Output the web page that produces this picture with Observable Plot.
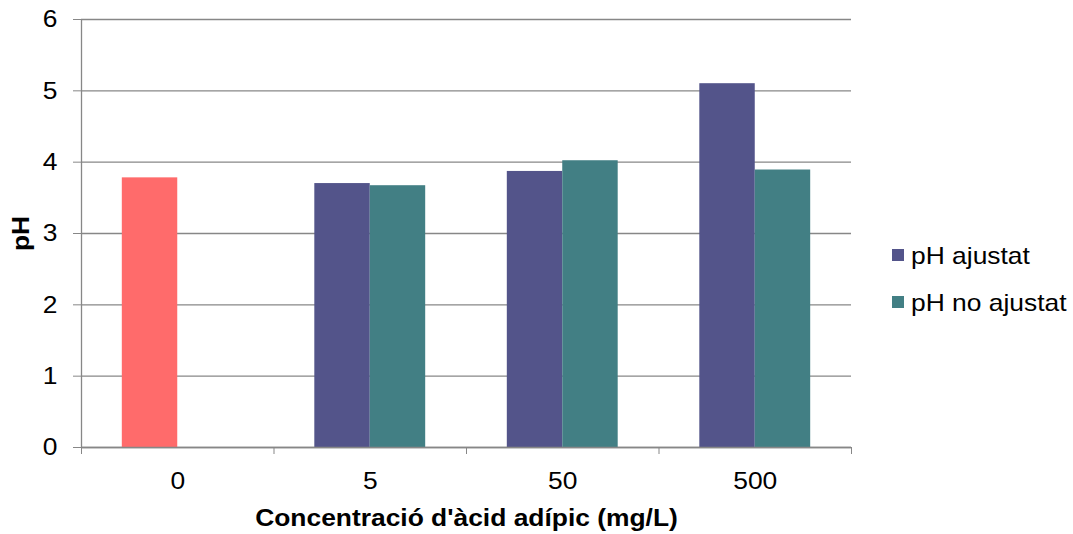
<!DOCTYPE html>
<html>
<head>
<meta charset="utf-8">
<script src="https://cdn.jsdelivr.net/npm/d3@7"></script>
<script src="https://cdn.jsdelivr.net/npm/@observablehq/plot@0.6"></script>
<style>
  body { margin: 0; background: #fff; font-family: "Liberation Sans", Arial, sans-serif; }
  #chart { position: relative; width: 1073px; height: 534px; }
  #chart svg { position: absolute; left: 0; top: 0; font-family: "Liberation Sans", Arial, sans-serif; }
  #chart svg text { font-size: 24px; fill: #000; }
  #chart g[aria-label="y-axis label"] text,
  #chart g[aria-label="x-axis label"] text { font-weight: bold; }
  .legend { position: absolute; left: 892px; top: 231px; font-size: 24px; color: #000; }
  .legend .item { display: flex; align-items: center; height: 47px; }
  .legend .sw { width: 12px; height: 12px; margin-right: 7px; }
  .legend .txt { display: inline-block; transform: scaleX(1.1); transform-origin: left center; position: relative; top: 1px; }
</style>
</head>
<body>
<div id="chart"></div>
<script>
// Categories on the x axis (adipic acid concentration, mg/L)
const categories = ["0", "5", "50", "500"];
const seriesNames = ["pH ajustat", "pH no ajustat"];
// Control sample (no adipic acid) shown on its own
const control = [3.78, null, null, null];
const phAjustat = [null, 3.70, 3.87, 5.10];
const phNoAjustat = [null, 3.67, 4.02, 3.89];
const yTicks = [0, 1, 2, 3, 4, 5, 6];

const seriesColors = ["#53548A", "#427F84"];
const controlColor = "#FF6B6B";
const gridColor = "#878787";

// Each bar covers this fraction of a category's width
const barWidth = 0.288;
// Horizontal widening of the lettering
const textStretch = 1.1;

const rows = [];
categories.forEach((c, i) => {
  if (control[i] != null) rows.push({cat: c, i, slot: 0, value: control[i], fill: controlColor});
  if (phAjustat[i] != null) rows.push({cat: c, i, slot: 0, value: phAjustat[i], fill: seriesColors[0]});
  if (phNoAjustat[i] != null) rows.push({cat: c, i, slot: 1, value: phNoAjustat[i], fill: seriesColors[1]});
});

const boundaries = d3.range(categories.length + 1);
const centers = categories.map((c, i) => i + 0.5);

const plot = Plot.plot({
  width: 1073,
  height: 534,
  marginLeft: 81,
  marginRight: 222,
  marginTop: 19,
  marginBottom: 87,
  x: {type: "linear", domain: [0, categories.length]},
  y: {domain: [0, 6]},
  marks: [
    Plot.gridY(yTicks, {stroke: gridColor, strokeOpacity: 1, strokeWidth: 1.3}),
    Plot.rectY(rows, {
      x1: d => d.i + 0.5 - barWidth + d.slot * barWidth,
      x2: d => d.i + 0.5 + d.slot * barWidth,
      y: "value",
      fill: "fill"
    }),
    Plot.ruleX([0], {stroke: gridColor, strokeWidth: 1.3}),
    Plot.ruleY([0], {stroke: gridColor, strokeWidth: 1.3}),
    Plot.axisY({
      ticks: yTicks,
      tickSize: 8,
      tickPadding: 16,
      tickFormat: "d",
      stroke: gridColor,
      fontSize: 24,
      label: "pH",
      labelAnchor: "center",
      labelArrow: "none",
      labelOffset: 70
    }),
    Plot.axisX({
      ticks: boundaries,
      tickSize: 7,
      stroke: gridColor,
      tickFormat: () => "",
      label: null
    }),
    Plot.axisX({
      ticks: centers,
      tickSize: 0,
      tickPadding: 24,
      fontSize: 24,
      tickFormat: v => categories[Math.floor(v)],
      label: "Concentració d'àcid adípic (mg/L)",
      labelAnchor: "center",
      labelArrow: "none",
      labelOffset: 78
    })
  ]
});

// Widen every label around its own anchor point
plot.querySelectorAll("text").forEach(t => {
  const tr = t.getAttribute("transform") || "";
  t.setAttribute("transform", `${tr} scale(${textStretch},1)`.trim());
});

const chart = document.getElementById("chart");
chart.appendChild(plot);

// Legend for the two pH series
const legend = document.createElement("div");
legend.className = "legend";
seriesNames.forEach((name, k) => {
  const item = document.createElement("div");
  item.className = "item";
  const sw = document.createElement("span");
  sw.className = "sw";
  sw.style.background = seriesColors[k];
  const label = document.createElement("span");
  label.className = "txt";
  label.textContent = name;
  item.appendChild(sw);
  item.appendChild(label);
  legend.appendChild(item);
});
chart.appendChild(legend);
</script>
</body>
</html>
